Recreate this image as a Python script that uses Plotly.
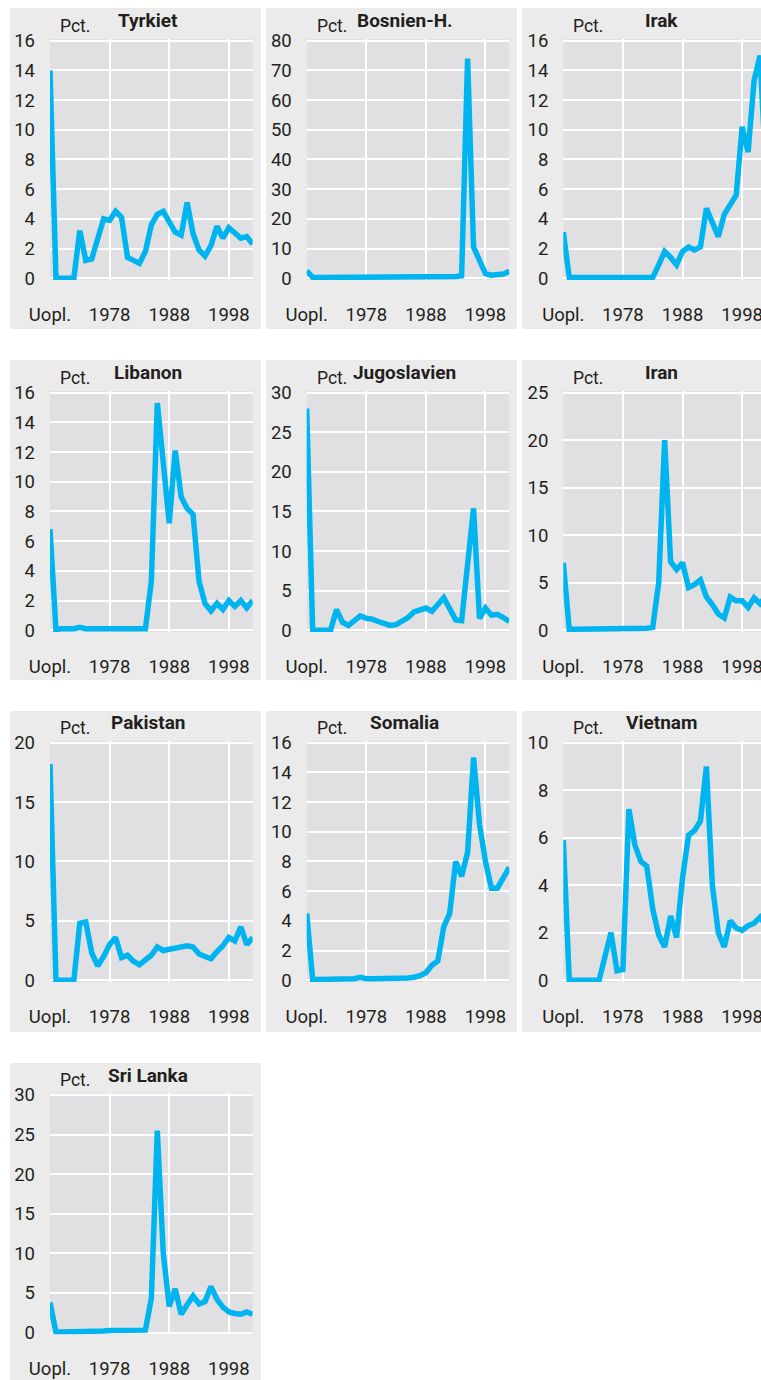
import plotly.graph_objects as go

# x categories: unknown year first, then year of arrival
periods = ["Uopl."] + [str(y) for y in range(1969, 2003)]
tick_vals = ["Uopl.", "1978", "1988", "1998"]

tyrkiet = [14.0, 0, 0, 0, 0, 3.2, 1.2, 1.3, 2.6, 4.0, 3.9, 4.5, 4.1, 1.4, 1.2,
           1.0, 1.8, 3.6, 4.3, 4.5, 3.8, 3.1, 2.9, 5.1, 3.0,
           1.9, 1.5, 2.2, 3.5, 2.7, 3.4, 3.1, 2.7, 2.8, 2.3]
bosnien = [2.5, 0.3, 0.2, 0.2, 0.2, 0.2, 0.2, 0.2, 0.2, 0.2, 0.2, 0.2, 0.2,
           0.2, 0.2, 0.2, 0.2, 0.2, 0.2, 0.2, 0.2, 0.2, 0.2, 0.3, 0.4, 0.6,
           0.8, 74.0, 10.5, 6.5, 1.5, 1.0, 1.3, 1.4, 2.3]
irak = [3.1, 0.05, 0.05, 0.05, 0.05, 0.05, 0.05, 0.05, 0.05, 0.1, 0.1, 0.1,
        0.1, 0.05, 0.05, 0.05, 0.9, 1.8, 1.4, 0.9, 1.8, 2.1, 1.9, 2.1, 4.7,
        3.8, 2.8, 4.3, 5.0, 5.6, 10.2, 8.5, 13.3, 15.0, 7.0]
libanon = [6.8, 0.05, 0.1, 0.1, 0.1, 0.2, 0.1, 0.1, 0.1, 0.1, 0.1, 0.1, 0.1,
           0.1, 0.1, 0.1, 0.1, 3.3, 15.3, 11.3, 7.2, 12.1, 9.0, 8.2, 7.8,
           3.3, 1.8, 1.3, 1.8, 1.4, 2.0, 1.6, 2.0, 1.5, 2.0]
jugoslavien = [28.0, 0, 0, 0, 0, 2.6, 1.0, 0.6, 1.2, 1.8, 1.5, 1.4, 1.1, 0.9,
               0.6, 0.7, 1.1, 1.6, 2.3, 2.5, 2.8, 2.4, 3.2, 4.1, 2.7,
               1.3, 1.2, 8.3, 15.4, 1.5, 2.8, 1.9, 2.0, 1.6, 1.1]
iran = [7.1, 0.1, 0.1, 0.1, 0.1, 0.1, 0.2, 0.1, 0.1, 0.1, 0.1, 0.1, 0.2, 0.2,
        0.2, 0.3, 5.0, 20.0, 7.2, 6.4, 7.1, 4.5, 4.8, 5.3, 3.5,
        2.7, 1.7, 1.3, 3.5, 3.1, 3.1, 2.4, 3.4, 2.8, 3.6]
pakistan = [18.2, 0, 0, 0, 0, 4.8, 4.9, 2.3, 1.2, 2.0, 3.0, 3.6, 1.9, 2.1,
            1.6, 1.3, 1.7, 2.1, 2.8, 2.5, 2.6, 2.7, 2.8, 2.9, 2.8,
            2.2, 2.0, 1.8, 2.4, 2.9, 3.6, 3.3, 4.5, 3.0, 3.6]
somalia = [4.5, 0.05, 0.05, 0.05, 0.05, 0.05, 0.1, 0.1, 0.1, 0.2, 0.1, 0.1,
           0.1, 0.1, 0.1, 0.1, 0.15, 0.15, 0.2, 0.3, 0.5, 1.0, 1.3, 3.6, 4.5,
           8.0, 7.0, 8.6, 15.0, 10.5, 8.0, 6.2, 6.2, 7.0, 7.6]
vietnam = [5.9, 0, 0, 0, 0, 0, 0, 1.0, 2.0, 0.4, 0.45, 7.2, 5.7, 5.0, 4.8,
           3.0, 1.9, 1.4, 2.7, 1.8, 4.3, 6.1, 6.3, 6.7, 9.0,
           4.0, 2.0, 1.4, 2.5, 2.2, 2.1, 2.3, 2.4, 2.65, 2.3]
sri_lanka = [3.8, 0.05, 0.05, 0.05, 0.1, 0.1, 0.1, 0.15, 0.2, 0.2, 0.25, 0.25,
             0.2, 0.2, 0.2, 0.2, 0.3, 4.3, 25.5, 10.0, 3.3, 5.5, 2.3, 3.5, 4.6,
             3.6, 3.9, 5.8, 4.2, 3.2, 2.6, 2.4, 2.3, 2.6, 2.3]

countries = ["Tyrkiet", "Bosnien-H.", "Irak", "Libanon", "Jugoslavien", "Iran",
             "Pakistan", "Somalia", "Vietnam", "Sri Lanka"]
series = [tyrkiet, bosnien, irak, libanon, jugoslavien, iran,
          pakistan, somalia, vietnam, sri_lanka]
y_max = [16, 80, 16, 16, 30, 25, 20, 16, 10, 30]
y_step = [2, 10, 2, 2, 5, 5, 5, 2, 2, 5]

W, H = 761, 1380
col_plot = [(50.0, 252.7), (306.7, 509.3), (563.3, 766.0)]
col_panel = [(10, 261), (266, 517), (522, 780)]
row_top = [40.7, 392.7, 742.7, 1095.0]
row_panel = [(8, 329), (360, 680), (711, 1032), (1063, 1390)]
plot_h = 237.5
pad = 1.8

LINE = "#00b5ef"
TEXT = "#231f20"
PANEL = "#ebebeb"
PLOT = "#e0e0e2"
FONT = "Roboto"

fig = go.Figure()
shapes, annotations = [], []
n_cats = len(periods) - 1

for i, (name, vals) in enumerate(zip(countries, series)):
    r, c = divmod(i, 3)
    sfx = "" if i == 0 else str(i + 1)
    left, right_full = col_plot[c]
    right = min(right_full, W)
    x_end = n_cats * (right - left) / (right_full - left)
    top = row_top[r]
    ppu = plot_h / y_max[i]
    y0_px = top + plot_h + pad
    y1_px = top - pad

    shapes.append(dict(type="rect", xref="paper", yref="paper", layer="below",
                       x0=col_panel[c][0] / W, x1=col_panel[c][1] / W,
                       y0=1 - row_panel[r][1] / H, y1=1 - row_panel[r][0] / H,
                       fillcolor=PANEL, line_width=0))
    # plot area background for each subplot
    shapes.append(dict(type="rect", xref=f"x{sfx} domain", yref=f"y{sfx} domain",
                       layer="below", x0=0, x1=1, y0=0, y1=1,
                       fillcolor=PLOT, line_width=0))

    fig.add_trace(go.Scatter(x=periods, y=vals, mode="lines",
                             line=dict(color=LINE, width=5.5),
                             xaxis=f"x{sfx}", yaxis=f"y{sfx}", showlegend=False,
                             hovertemplate="%{x}: %{y} pct.<extra>" + name + "</extra>"))

    fig.layout[f"xaxis{sfx}"] = dict(
        domain=[left / W, right / W], anchor=f"y{sfx}", type="category",
        categoryorder="array", categoryarray=periods, range=[0, x_end],
        tickvals=tick_vals, ticktext=tick_vals, showgrid=True,
        gridcolor="white", gridwidth=2, zeroline=False, showline=False,
        ticks="", ticklabelstandoff=21, fixedrange=True, automargin=False,
        tickfont=dict(family=FONT, size=18.5, color=TEXT))
    fig.layout[f"yaxis{sfx}"] = dict(
        domain=[1 - y0_px / H, 1 - y1_px / H], anchor=f"x{sfx}",
        range=[-pad / ppu, y_max[i] + pad / ppu], tick0=0, dtick=y_step[i],
        showgrid=True, gridcolor="white", gridwidth=2, zeroline=False,
        showline=False, ticks="", ticklabelstandoff=14, fixedrange=True,
        automargin=False, tickfont=dict(family=FONT, size=18.5, color=TEXT))

    annotations.append(dict(text="<b>" + name + "</b>", xref="paper", yref="paper",
                            x=(left + 98) / W, y=1 - (top - 20) / H,
                            xanchor="center", yanchor="middle", showarrow=False,
                            font=dict(family=FONT, size=19, color=TEXT)))
    annotations.append(dict(text="Pct.", xref="paper", yref="paper",
                            x=(left + 8) / W, y=1 - (top - 15) / H,
                            xanchor="left", yanchor="middle", showarrow=False,
                            font=dict(family=FONT, size=17.5, color=TEXT)))

fig.update_layout(width=W, height=H, margin=dict(l=0, r=0, t=0, b=0, autoexpand=False),
                  paper_bgcolor="white", plot_bgcolor="rgba(0,0,0,0)",
                  shapes=shapes, annotations=annotations, showlegend=False,
                  font=dict(family=FONT, color=TEXT))

# drop the browser's default body margin so the figure fills the window
fig.write_html("out.html", config=dict(displayModeBar=False),
               post_script="document.body.style.margin='0';"
                           "document.body.style.overflow='hidden';")
